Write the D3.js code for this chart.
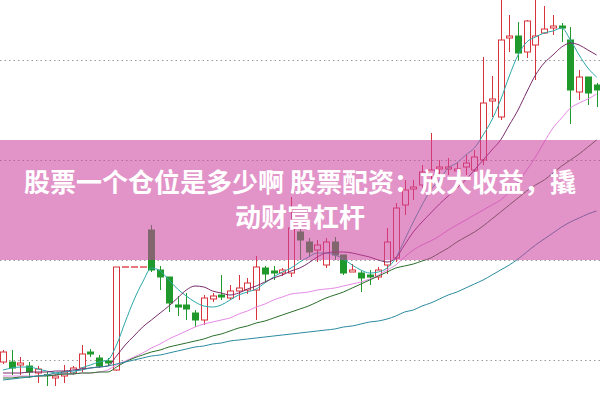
<!DOCTYPE html>
<html><head><meta charset="utf-8">
<script src="https://cdn.jsdelivr.net/npm/d3@7"></script>
<style>html,body{margin:0;padding:0;background:#fff;overflow:hidden}svg{display:block}</style>
</head><body><svg id="c" width="600" height="400"></svg>
<script>
// candle data (price units), one entry per trading day
const openP  = [7.96,7.96,7.90,7.88,7.74,7.71,7.64,7.68,7.74,7.84,8.16,8.04,7.98,7.80,9.86,9.86,9.86,10.60,9.80,9.66,9.10,9.10,8.94,8.80,9.22,9.30,9.24,9.38,9.40,9.40,9.84,9.78,9.74,9.74,10.56,10.36,10.20,9.90,10.36,10.10,9.76,9.74,9.70,9.66,9.90,10.04,11.10,11.42,11.50,11.70,11.82,11.82,11.78,11.86,11.80,12.00,13.18,12.86,14.44,14.48,14.16,14.30,14.54,14.64,14.68,14.40,13.36,13.66,13.50];
const closeP = [8.16,7.84,7.94,7.76,7.82,7.69,7.68,7.76,7.84,8.12,8.12,7.88,7.94,9.86,9.86,9.86,9.86,9.80,9.66,9.14,9.06,9.02,8.80,9.24,9.28,9.26,9.38,9.44,9.54,9.86,9.72,9.74,9.80,10.64,10.40,10.16,10.30,10.36,10.10,9.74,9.80,9.64,9.66,9.80,10.36,11.04,11.40,11.46,11.76,11.80,11.86,11.86,11.82,11.94,12.06,13.14,13.22,14.40,14.48,14.14,14.78,14.48,14.62,14.68,14.64,13.40,13.66,13.34,13.40];
const highP  = [8.20,8.20,8.06,7.96,7.88,7.76,7.72,7.90,7.88,8.30,8.22,8.10,8.04,9.86,9.86,9.86,9.86,10.70,9.88,9.66,9.28,9.34,9.00,9.30,9.34,9.70,9.50,9.70,9.64,10.08,9.88,9.88,9.84,11.26,10.70,10.44,10.40,10.44,10.46,10.10,9.92,9.78,9.80,9.86,10.64,11.14,11.60,11.60,11.90,12.54,12.00,12.04,11.96,12.10,12.20,14.06,13.68,15.20,14.90,14.76,14.80,15.20,15.08,14.90,14.74,14.66,13.80,13.66,13.54];
const lowP   = [7.92,7.70,7.70,7.64,7.54,7.48,7.48,7.54,7.70,7.76,8.06,7.84,7.88,7.78,9.86,9.86,9.86,9.76,9.40,8.96,8.88,8.80,8.66,8.70,9.16,9.20,9.20,9.20,9.32,8.80,9.56,9.60,9.68,9.66,10.00,10.06,9.96,9.84,10.00,9.70,9.76,9.36,9.50,9.60,9.72,9.96,10.90,11.20,11.44,11.40,11.70,11.70,11.60,11.70,11.70,11.90,12.86,12.80,14.16,14.00,14.04,13.60,14.52,14.50,14.36,12.72,13.20,13.10,13.06];
// moving averages
const ma5  = [7.80,7.84,7.86,7.86,7.82,7.78,7.74,7.72,7.74,7.84,7.90,7.96,8.00,8.30,8.76,9.20,9.56,9.84,9.78,9.60,9.42,9.28,9.16,9.08,9.06,9.10,9.20,9.30,9.36,9.42,9.54,9.66,9.76,9.84,9.96,10.06,10.14,10.14,10.10,10.02,9.90,9.80,9.74,9.76,9.84,10.04,10.40,10.76,11.10,11.40,11.60,11.84,11.94,12.10,12.24,12.50,12.80,13.20,13.68,14.10,14.36,14.46,14.54,14.58,14.64,14.40,14.10,13.84,13.66];
const ma10 = [7.74,7.74,7.74,7.76,7.76,7.76,7.78,7.78,7.80,7.82,7.84,7.86,7.88,8.08,8.30,8.48,8.66,8.80,8.94,9.08,9.24,9.40,9.48,9.46,9.38,9.34,9.30,9.34,9.42,9.48,9.56,9.64,9.70,9.78,9.84,9.94,10.06,10.14,10.16,10.16,10.14,10.10,10.06,10.00,9.96,10.04,10.30,10.56,10.76,10.94,11.12,11.28,11.44,11.60,11.80,12.00,12.20,12.40,12.70,13.00,13.36,13.70,13.94,14.10,14.26,14.34,14.30,14.20,14.10];
const ma20 = [7.68,7.68,7.68,7.68,7.68,7.70,7.70,7.72,7.72,7.74,7.74,7.76,7.80,7.90,7.98,8.06,8.14,8.24,8.32,8.42,8.50,8.58,8.66,8.72,8.76,8.80,8.84,8.92,8.98,9.06,9.12,9.20,9.26,9.32,9.34,9.36,9.40,9.42,9.44,9.48,9.52,9.56,9.62,9.70,9.80,9.90,10.06,10.20,10.30,10.38,10.48,10.60,10.70,10.80,10.90,11.00,11.10,11.20,11.36,11.56,11.80,12.06,12.36,12.64,12.84,13.04,13.14,13.22,13.32];
const ma30 = [7.64,7.64,7.66,7.66,7.68,7.68,7.70,7.72,7.72,7.74,7.74,7.76,7.76,7.86,7.96,8.04,8.10,8.16,8.20,8.26,8.30,8.34,8.38,8.42,8.48,8.52,8.58,8.64,8.68,8.74,8.78,8.84,8.90,8.96,9.02,9.08,9.16,9.24,9.30,9.36,9.44,9.52,9.60,9.68,9.76,9.84,9.88,9.92,9.98,10.04,10.14,10.24,10.36,10.46,10.56,10.68,10.82,10.96,11.10,11.24,11.38,11.50,11.60,11.74,11.88,12.00,12.12,12.26,12.40];
const ma60 = [7.60,7.62,7.64,7.66,7.68,7.70,7.74,7.76,7.78,7.80,7.84,7.86,7.88,7.92,7.96,8.00,8.04,8.08,8.10,8.14,8.18,8.22,8.26,8.28,8.32,8.34,8.38,8.40,8.42,8.44,8.46,8.48,8.50,8.52,8.54,8.56,8.58,8.60,8.62,8.66,8.68,8.72,8.76,8.78,8.82,8.88,8.96,9.00,9.08,9.14,9.22,9.30,9.36,9.44,9.52,9.60,9.70,9.80,9.90,10.02,10.16,10.30,10.42,10.54,10.66,10.76,10.84,10.92,10.98];
const maNames  = ["MA5","MA10","MA20","MA30","MA60"];
const gridTicks = [8,10,12,14];
const titleLines = ["股票一个仓位是多少啊 股票配资：放大收益，撬","动财富杠杆"];

const W = 600, H = 400;
const svg = d3.select("#c");
const n = openP.length;
const x = d3.scaleLinear().domain([0, n - 1]).range([3, 596.6]);
const y = d3.scaleLinear().domain([7.2, 15.2]).range([H, 0]);
const maColor = d3.scaleOrdinal().domain(maNames).range(["#2aa7a8","#7a2c6c","#e48ae4","#2a6e2a","#2b8aa0"]);
const UP = "#d8323c", DOWN = "#20992c";

// grid
svg.append("g").selectAll("line").data(gridTicks).join("line")
  .attr("x1", 0).attr("x2", W)
  .attr("y1", d => Math.round(y(d)) + 0.5).attr("y2", d => Math.round(y(d)) + 0.5)
  .attr("stroke", "#9a9a9a").attr("stroke-width", 1).attr("stroke-dasharray", "1.5,3");

// candles
const candles = d3.range(n).map(i => ({i, o: openP[i], c: closeP[i], h: highP[i], l: lowP[i]}));
const cg = svg.append("g");
const bw = 6;
candles.forEach(d => {
  const cx = Math.round(x(d.i)) + 0.5;
  const up = d.c >= d.o;
  const col = up ? UP : DOWN;
  if (d.h === d.l) {
    cg.append("line").attr("x1", cx - 3.5).attr("x2", cx + 3.5)
      .attr("y1", y(d.c)).attr("y2", y(d.c)).attr("stroke", UP).attr("stroke-width", 1.3);
    return;
  }
  const top = y(Math.max(d.o, d.c)), bot = y(Math.min(d.o, d.c));
  cg.append("line").attr("x1", cx).attr("x2", cx).attr("y1", y(d.h)).attr("y2", top).attr("stroke", col);
  cg.append("line").attr("x1", cx).attr("x2", cx).attr("y1", bot).attr("y2", y(d.l)).attr("stroke", col);
  const hgt = Math.max(1, bot - top);
  cg.append("rect").attr("x", cx - bw / 2).attr("y", top).attr("width", bw).attr("height", hgt)
    .attr("fill", up ? "#fff" : DOWN).attr("stroke", col).attr("stroke-width", 1);
});

// moving averages
const maData = [ma5, ma10, ma20, ma30, ma60];
const line = d3.line().x((d, i) => x(i)).y(d => y(d)).curve(d3.curveMonotoneX);
svg.append("g").selectAll("path").data(maData).join("path")
  .attr("d", line).attr("fill", "none")
  .attr("stroke", (d, k) => maColor(maNames[k])).attr("stroke-width", 1);

// banner overlay
svg.append("rect").attr("x", 0).attr("y", 140).attr("width", W).attr("height", 120)
  .attr("fill", "rgb(204,65,159)").attr("fill-opacity", 0.57);

svg.append("g").selectAll("text").data(titleLines).join("text")
  .attr("x", W / 2).attr("y", (d, k) => 192 + k * 35)
  .attr("text-anchor", "middle")
  .attr("font-family", "'Noto Sans CJK SC','Noto Sans',sans-serif")
  .attr("font-weight", "bold").attr("font-size", 26)
  .attr("fill", "#fff").text(d => d);
</script></body></html>
